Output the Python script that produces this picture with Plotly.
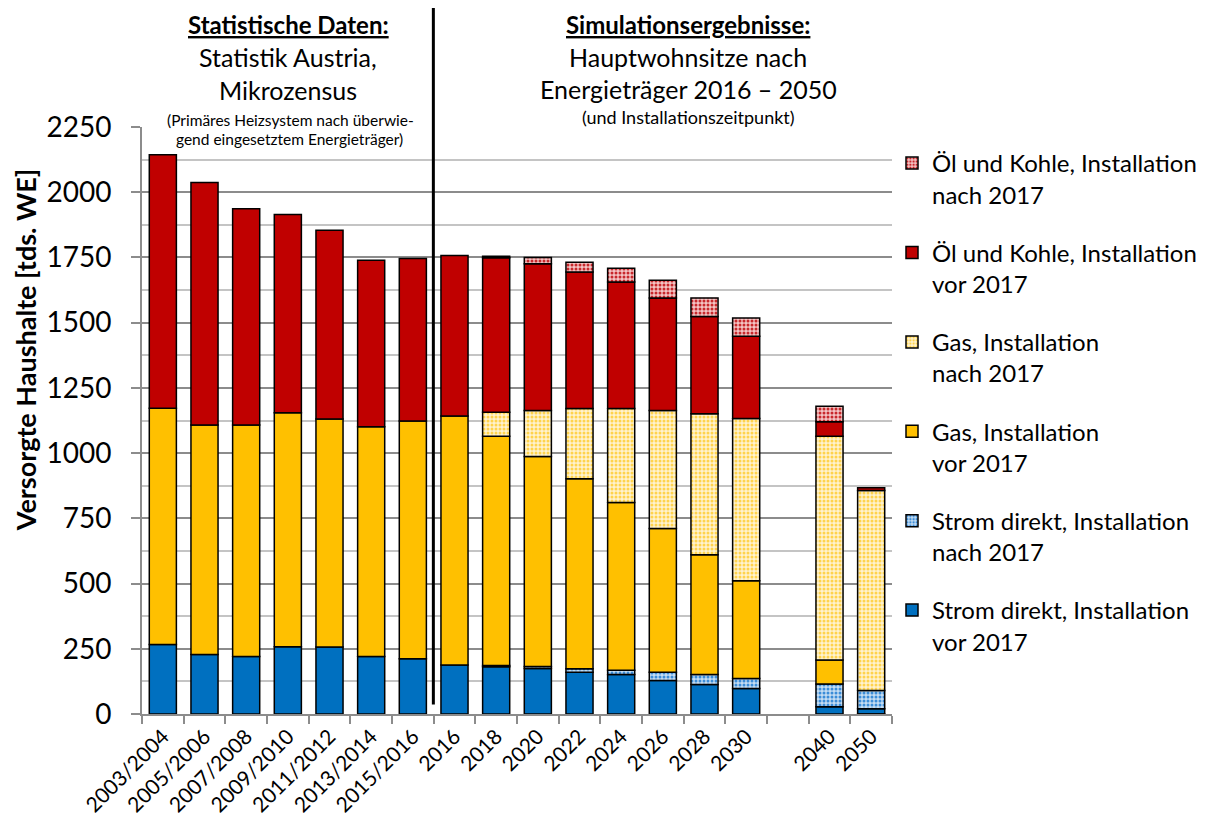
import plotly.graph_objects as go

# ---------------- data ----------------
categories = ["2003/2004", "2005/2006", "2007/2008", "2009/2010", "2011/2012",
              "2013/2014", "2015/2016", "2016", "2018", "2020", "2022", "2024",
              "2026", "2028", "2030", " ", "2040", "2050"]

strom_vor = [266, 228, 220, 258, 257, 220, 212, 188, 181, 174, 160, 151, 128, 113, 98, None, 28, 20]
strom_nach = [None, None, None, None, None, None, None, None, 5, 8, 13, 17, 32, 38, 38, None, 87, 70]
gas_vor = [906, 880, 888, 897, 874, 881, 911, 954, 879, 805, 729, 643, 551, 459, 375, None, 92, -10]
gas_nach = [None, None, None, None, None, None, None, None, 92, 176, 269, 360, 452, 541, 622, None, 858, 767]
oel_vor = [972, 929, 829, 760, 723, 638, 623, 615, 592, 563, 523, 485, 432, 373, 315, None, 55, 10]
oel_nach = [None, None, None, None, None, None, None, None, 6, 24, 38, 53, 68, 71, 70, None, 60, None]

y_ticks = [0, 250, 500, 750, 1000, 1250, 1500, 1750, 2000, 2250]

# ---------------- layout helpers ----------------
W, H = 1205, 822
OFF = 8                       # page body margin of the html page
PLOT_X0, PLOT_X1 = 141.6, 891.7   # target screen positions of the plot area
PLOT_Y0, PLOT_Y1 = 127.0, 714.5
L = PLOT_X0 - OFF
T = PLOT_Y0 - OFF
R = W - (PLOT_X1 - OFF)
B = H - (PLOT_Y1 - OFF)
FONT = "Lato"


def px_x(x):
    return (x - PLOT_X0) / (PLOT_X1 - PLOT_X0)


def px_y(y):
    return (PLOT_Y1 - y) / (PLOT_Y1 - PLOT_Y0)


outline = dict(color="black", width=1.5)

fig = go.Figure()

series = [
    ("Strom direkt, Installation<br>vor 2017", strom_vor,
     dict(color="#0070C0", line=outline)),
    ("Strom direkt, Installation<br>nach 2017", strom_nach,
     dict(color="#C5DDF3", line=outline,
          pattern=dict(shape=".", fgcolor="#3C8DD8", bgcolor="#C5DDF3",
                       size=4, solidity=0.45, fillmode="replace"))),
    ("Gas, Installation<br>vor 2017", gas_vor,
     dict(color="#FFC000", line=outline)),
    ("Gas, Installation<br>nach 2017", gas_nach,
     dict(color="#FFF3D0", line=outline,
          pattern=dict(shape=".", fgcolor="#FFD34D", bgcolor="#FFF3D0",
                       size=4, solidity=0.45, fillmode="replace"))),
    ("Öl und Kohle, Installation<br>vor 2017", oel_vor,
     dict(color="#C00000", line=outline)),
    ("Öl und Kohle, Installation<br>nach 2017", oel_nach,
     dict(color="#F4C4C4", line=outline,
          pattern=dict(shape=".", fgcolor="#C8282C", bgcolor="#F4C4C4",
                       size=4, solidity=0.45, fillmode="replace"))),
]

for i, (name, vals, marker) in enumerate(series):
    fig.add_trace(go.Bar(x=categories, y=vals, name=name, marker=marker,
                         legendgroup=f"g{i}", legendrank=len(series) - i))

# ---------------- annotations ----------------
annotations = []


def add_text(text, x, y, size, bold=False):
    annotations.append(dict(
        text=(f"<b>{text}</b>" if bold else text),
        x=px_x(x), y=px_y(y), xref="paper", yref="paper",
        xanchor="center", yanchor="middle", showarrow=False,
        font=dict(family=FONT, size=size, color="black")))


add_text("<u>Statistische Daten:</u>", 288, 24, 24, bold=True)
add_text("Statistik Austria,", 288, 57, 25)
add_text("Mikrozensus", 288, 90, 25)
add_text("(Primäres Heizsystem nach überwie-", 290, 120, 15.5)
add_text("gend eingesetztem Energieträger)", 289, 139, 15.5)

add_text("<u>Simulationsergebnisse:</u>", 688, 24, 24, bold=True)
add_text("Hauptwohnsitze nach", 688, 57, 25)
add_text("Energieträger 2016 – 2050", 688, 89, 25)
add_text("(und Installationszeitpunkt)", 688, 117, 18)

annotations.append(dict(
    text="<b>Versorgte Haushalte [tds. WE]</b>", textangle=-90,
    x=px_x(25), y=px_y(350), xref="paper", yref="paper",
    xanchor="center", yanchor="middle", showarrow=False,
    font=dict(family=FONT, size=27, color="black")))

# separator line between statistics and simulation
shapes = [dict(type="line", xref="paper", yref="paper",
               x0=px_x(433), x1=px_x(433), y0=px_y(705), y1=px_y(8),
               line=dict(color="black", width=3))]

fig.update_layout(
    width=W, height=H,
    margin=dict(l=L, r=R, t=T, b=B, autoexpand=False),
    paper_bgcolor="white", plot_bgcolor="white",
    barmode="relative", bargap=0.35,
    font=dict(family=FONT, color="black"),
    showlegend=True,
    legend=dict(x=1.0, xanchor="left", y=px_y(141), yanchor="top",
                traceorder="grouped", tracegroupgap=24,
                valign="top", bgcolor="rgba(0,0,0,0)",
                font=dict(family=FONT, size=24, color="black")),
    annotations=annotations,
    shapes=shapes,
    xaxis=dict(type="category", categoryorder="array", categoryarray=categories,
               tickangle=-45, tickson="boundaries", ticks="outside", ticklen=8,
               tickcolor="#8c8c8c", tickwidth=1.5,
               showline=True, linecolor="#8c8c8c", linewidth=2,
               tickfont=dict(family=FONT, size=21, color="black"),
               showgrid=False),
    yaxis=dict(range=[0, 2250], tickvals=y_ticks, ticks="outside", ticklen=9,
               tickcolor="#8c8c8c", tickwidth=1.5, ticklabelstandoff=14,
               showline=True, linecolor="#8c8c8c", linewidth=2,
               showgrid=True, gridcolor="#8c8c8c", gridwidth=1.5,
               zeroline=False,
               minor=dict(dtick=125, tick0=0, showgrid=True, gridcolor="#c4c4c4",
                          gridwidth=1.5, ticks=""),
               tickfont=dict(family=FONT, size=28, color="black")),
)

fig.write_html("out.html")
